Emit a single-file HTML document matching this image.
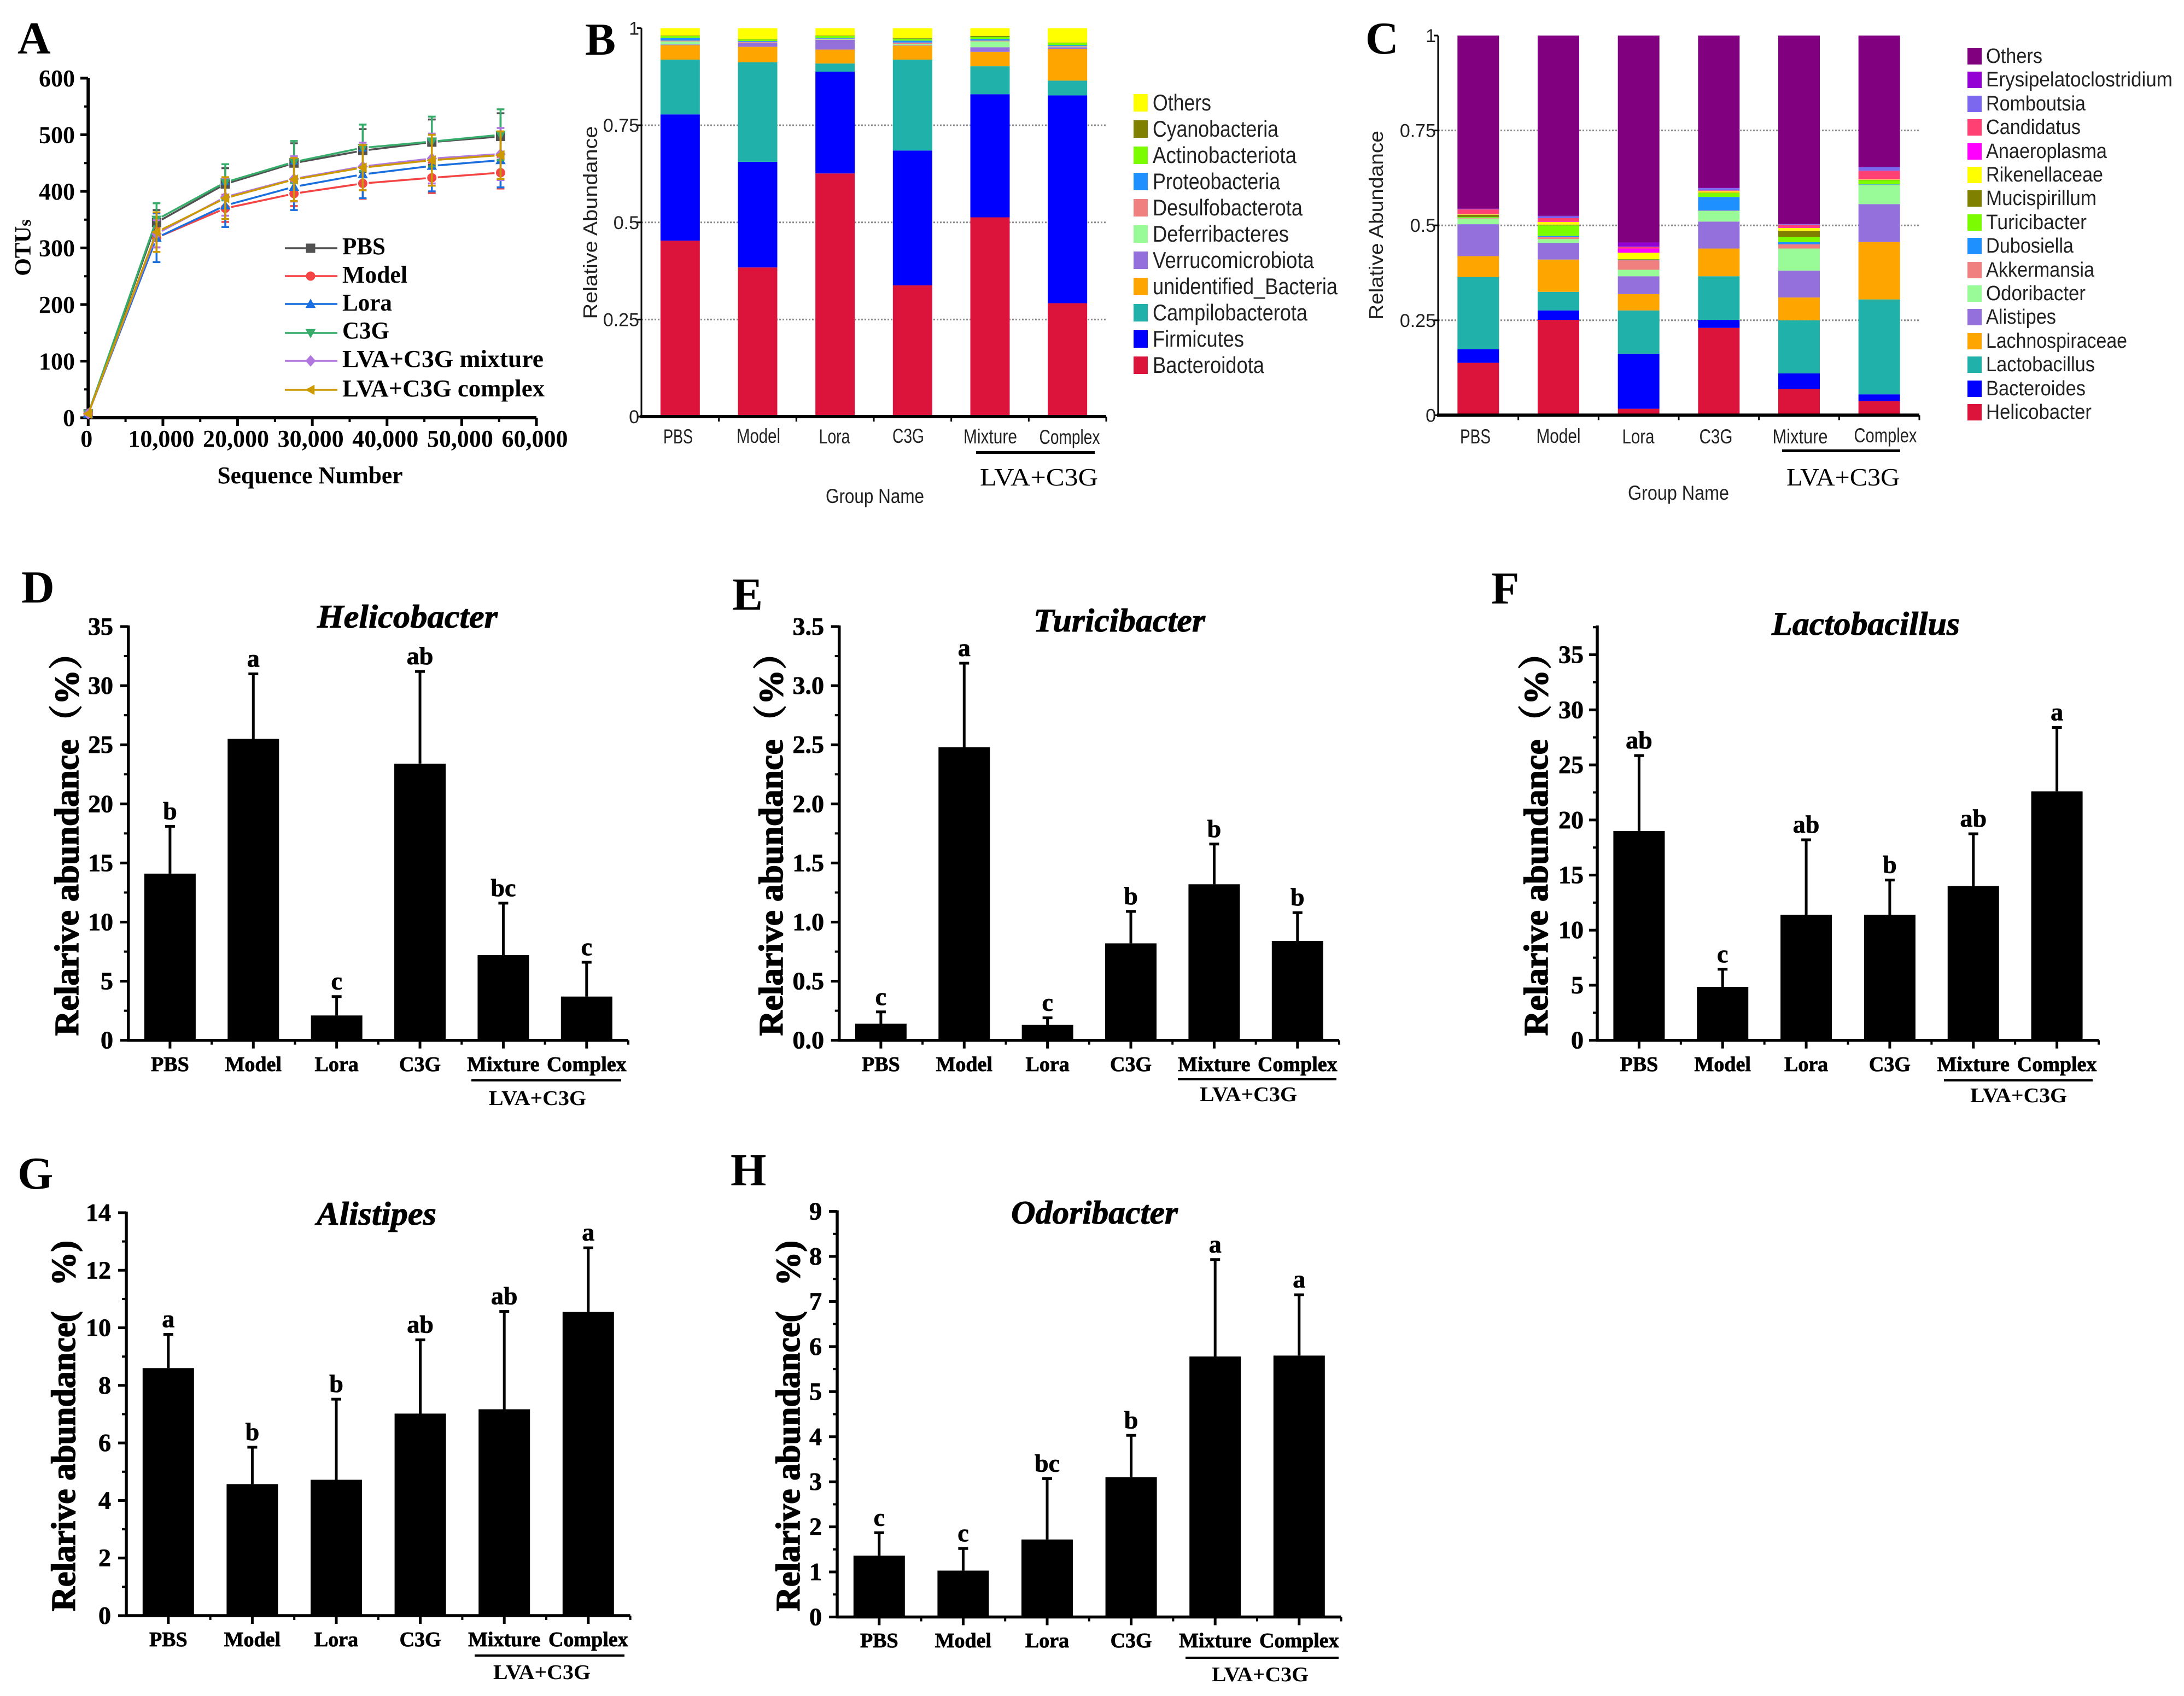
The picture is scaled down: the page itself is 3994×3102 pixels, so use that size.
<!DOCTYPE html>
<html lang="en">
<head>
<meta charset="utf-8">
<title>Gut microbiota composition figure</title>
<style>
html,body{margin:0;padding:0;background:#fff;}
svg{display:block;}
.serif{font-family:"Liberation Serif","Noto Serif CJK SC",serif;}
.bold{font-weight:bold;}
.ital{font-style:italic;}
.sans{font-family:"Liberation Sans",sans-serif;}
.letter{font-family:"Liberation Serif",serif;font-weight:bold;font-size:84px;}
.ytitle{font-family:"Liberation Serif","Noto Serif CJK SC",serif;font-weight:bold;font-size:62px;text-anchor:middle;white-space:pre;stroke:#000;stroke-width:1.5px;}
.title{font-family:"Liberation Serif",serif;font-weight:bold;font-style:italic;font-size:60px;stroke:#000;stroke-width:1px;}
.lva{font-family:"Liberation Serif",serif;font-weight:bold;font-size:38px;}
.lgb{font-family:"Liberation Sans",sans-serif;font-size:42px;fill:#222;}
.lgc{font-family:"Liberation Sans",sans-serif;font-size:38px;fill:#222;}
.lga{font-family:"Liberation Serif",serif;font-weight:bold;font-size:44px;}
.heavy{stroke:#000;stroke-width:.8px;}
</style>
</head>
<body>
<svg id="figure" xmlns="http://www.w3.org/2000/svg" width="3994" height="3102" viewBox="0 0 3994 3102">
<rect x="0" y="0" width="3994" height="3102" fill="#fff"/>

<g id="panel-a">
  <text class="letter" x="32" y="98">A</text>
  <text class="serif bold" font-size="42" text-anchor="middle" transform="translate(56 453) rotate(-90)">OTU<tspan font-size="32">s</tspan></text>
  <text class="serif bold" font-size="44" text-anchor="middle" x="567" y="884" textLength="339" lengthAdjust="spacingAndGlyphs">Sequence Number</text>
  <text class="lga" x="626" y="465" textLength="79" lengthAdjust="spacingAndGlyphs">PBS</text>
  <text class="lga" x="626" y="517" textLength="119" lengthAdjust="spacingAndGlyphs">Model</text>
  <text class="lga" x="626" y="568" textLength="91" lengthAdjust="spacingAndGlyphs">Lora</text>
  <text class="lga" x="626" y="619" textLength="86" lengthAdjust="spacingAndGlyphs">C3G</text>
  <text class="lga" x="626" y="671" textLength="368" lengthAdjust="spacingAndGlyphs">LVA+C3G mixture</text>
  <text class="lga" x="626" y="725" textLength="370" lengthAdjust="spacingAndGlyphs">LVA+C3G complex</text>
</g>

<g id="panel-b">
  <text class="letter" x="1070" y="100">B</text>
  <text class="sans" font-size="36" fill="#222" text-anchor="middle" transform="translate(1092 407) rotate(-90)" textLength="353" lengthAdjust="spacingAndGlyphs">Relative Abundance</text>
  <rect x="1785" y="825" width="217" height="5" fill="#000"/>
  <text class="serif" font-size="45" x="1792" y="888" textLength="216" lengthAdjust="spacingAndGlyphs">LVA+C3G</text>
  <text class="sans" font-size="37" fill="#222" x="1510" y="920" textLength="180" lengthAdjust="spacingAndGlyphs">Group Name</text>
  <g>
    <rect x="2073" y="172" width="26" height="32" fill="#ffff00"/><text class="lgb" x="2108" y="202" textLength="107" lengthAdjust="spacingAndGlyphs">Others</text>
    <rect x="2073" y="220" width="26" height="32" fill="#808000"/><text class="lgb" x="2108" y="250" textLength="230" lengthAdjust="spacingAndGlyphs">Cyanobacteria</text>
    <rect x="2073" y="268" width="26" height="32" fill="#7cfc00"/><text class="lgb" x="2108" y="298" textLength="263" lengthAdjust="spacingAndGlyphs">Actinobacteriota</text>
    <rect x="2073" y="316" width="26" height="32" fill="#1e90ff"/><text class="lgb" x="2108" y="346" textLength="233" lengthAdjust="spacingAndGlyphs">Proteobacteria</text>
    <rect x="2073" y="364" width="26" height="32" fill="#f08080"/><text class="lgb" x="2108" y="394" textLength="274" lengthAdjust="spacingAndGlyphs">Desulfobacterota</text>
    <rect x="2073" y="412" width="26" height="32" fill="#98fb98"/><text class="lgb" x="2108" y="442" textLength="249" lengthAdjust="spacingAndGlyphs">Deferribacteres</text>
    <rect x="2073" y="460" width="26" height="32" fill="#9370db"/><text class="lgb" x="2108" y="490" textLength="295" lengthAdjust="spacingAndGlyphs">Verrucomicrobiota</text>
    <rect x="2073" y="508" width="26" height="32" fill="#ffa500"/><text class="lgb" x="2108" y="538" textLength="338" lengthAdjust="spacingAndGlyphs">unidentified_Bacteria</text>
    <rect x="2073" y="556" width="26" height="32" fill="#20b2aa"/><text class="lgb" x="2108" y="586" textLength="283" lengthAdjust="spacingAndGlyphs">Campilobacterota</text>
    <rect x="2073" y="604" width="26" height="32" fill="#0000ff"/><text class="lgb" x="2108" y="634" textLength="167" lengthAdjust="spacingAndGlyphs">Firmicutes</text>
    <rect x="2073" y="652" width="26" height="32" fill="#dc143c"/><text class="lgb" x="2108" y="682" textLength="204" lengthAdjust="spacingAndGlyphs">Bacteroidota</text>
  </g>
</g>

<g id="panel-c">
  <text class="letter" x="2497" y="98">C</text>
  <text class="sans" font-size="36" fill="#222" text-anchor="middle" transform="translate(2529 412) rotate(-90)" textLength="346" lengthAdjust="spacingAndGlyphs">Relative Abundance</text>
  <rect x="3259" y="822" width="216" height="5" fill="#000"/>
  <text class="serif" font-size="45" x="3267" y="888" textLength="207" lengthAdjust="spacingAndGlyphs">LVA+C3G</text>
  <text class="sans" font-size="37" fill="#222" x="2977" y="914" textLength="185" lengthAdjust="spacingAndGlyphs">Group Name</text>
  <g>
    <rect x="3598" y="88" width="26" height="30" fill="#800080"/><text class="lgc" x="3632" y="115" textLength="103" lengthAdjust="spacingAndGlyphs">Others</text>
    <rect x="3598" y="131" width="26" height="30" fill="#9400d3"/><text class="lgc" x="3632" y="158" textLength="341" lengthAdjust="spacingAndGlyphs">Erysipelatoclostridium</text>
    <rect x="3598" y="175" width="26" height="30" fill="#7b68ee"/><text class="lgc" x="3632" y="202" textLength="182" lengthAdjust="spacingAndGlyphs">Romboutsia</text>
    <rect x="3598" y="218" width="26" height="30" fill="#ff4073"/><text class="lgc" x="3632" y="245" textLength="173" lengthAdjust="spacingAndGlyphs">Candidatus</text>
    <rect x="3598" y="262" width="26" height="30" fill="#ff00ff"/><text class="lgc" x="3632" y="289" textLength="221" lengthAdjust="spacingAndGlyphs">Anaeroplasma</text>
    <rect x="3598" y="305" width="26" height="30" fill="#ffff00"/><text class="lgc" x="3632" y="332" textLength="214" lengthAdjust="spacingAndGlyphs">Rikenellaceae</text>
    <rect x="3598" y="348" width="26" height="30" fill="#808000"/><text class="lgc" x="3632" y="375" textLength="202" lengthAdjust="spacingAndGlyphs">Mucispirillum</text>
    <rect x="3598" y="392" width="26" height="30" fill="#7cfc00"/><text class="lgc" x="3632" y="419" textLength="184" lengthAdjust="spacingAndGlyphs">Turicibacter</text>
    <rect x="3598" y="435" width="26" height="30" fill="#1e90ff"/><text class="lgc" x="3632" y="462" textLength="160" lengthAdjust="spacingAndGlyphs">Dubosiella</text>
    <rect x="3598" y="479" width="26" height="30" fill="#f08080"/><text class="lgc" x="3632" y="506" textLength="198" lengthAdjust="spacingAndGlyphs">Akkermansia</text>
    <rect x="3598" y="522" width="26" height="30" fill="#98fb98"/><text class="lgc" x="3632" y="549" textLength="182" lengthAdjust="spacingAndGlyphs">Odoribacter</text>
    <rect x="3598" y="565" width="26" height="30" fill="#9370db"/><text class="lgc" x="3632" y="592" textLength="128" lengthAdjust="spacingAndGlyphs">Alistipes</text>
    <rect x="3598" y="609" width="26" height="30" fill="#ffa500"/><text class="lgc" x="3632" y="636" textLength="258" lengthAdjust="spacingAndGlyphs">Lachnospiraceae</text>
    <rect x="3598" y="652" width="26" height="30" fill="#20b2aa"/><text class="lgc" x="3632" y="679" textLength="199" lengthAdjust="spacingAndGlyphs">Lactobacillus</text>
    <rect x="3598" y="696" width="26" height="30" fill="#0000ff"/><text class="lgc" x="3632" y="723" textLength="182" lengthAdjust="spacingAndGlyphs">Bacteroides</text>
    <rect x="3598" y="739" width="26" height="30" fill="#dc143c"/><text class="lgc" x="3632" y="766" textLength="193" lengthAdjust="spacingAndGlyphs">Helicobacter</text>
  </g>
</g>

<g id="panel-d">
  <text class="letter" x="39" y="1102">D</text>
  <text class="title" x="580" y="1148" textLength="330" lengthAdjust="spacingAndGlyphs">Helicobacter</text>
  <text class="ytitle" transform="translate(143 1528) rotate(-90)" textLength="733" lengthAdjust="spacingAndGlyphs">Relarive abundance（%）</text>
  <rect x="862" y="1974" width="274" height="4" fill="#000"/>
  <text class="lva" x="894" y="2021" textLength="178" lengthAdjust="spacingAndGlyphs">LVA+C3G</text>
</g>

<g id="panel-e">
  <text class="letter" x="1339" y="1115">E</text>
  <text class="title" x="1890" y="1155" textLength="314" lengthAdjust="spacingAndGlyphs">Turicibacter</text>
  <text class="ytitle" transform="translate(1431 1528) rotate(-90)" textLength="733" lengthAdjust="spacingAndGlyphs">Relarive abundance（%）</text>
  <rect x="2154" y="1972" width="290" height="4" fill="#000"/>
  <text class="lva" x="2194" y="2014" textLength="178" lengthAdjust="spacingAndGlyphs">LVA+C3G</text>
</g>

<g id="panel-f">
  <text class="letter" x="2727" y="1104">F</text>
  <text class="title" x="3240" y="1161" textLength="344" lengthAdjust="spacingAndGlyphs">Lactobacillus</text>
  <text class="ytitle" transform="translate(2830 1528) rotate(-90)" textLength="733" lengthAdjust="spacingAndGlyphs">Relarive abundance（%）</text>
  <rect x="3555" y="1974" width="272" height="4" fill="#000"/>
  <text class="lva" x="3603" y="2016" textLength="177" lengthAdjust="spacingAndGlyphs">LVA+C3G</text>
</g>

<g id="panel-g">
  <text class="letter" x="32" y="2174">G</text>
  <text class="title" x="579" y="2240" textLength="219" lengthAdjust="spacingAndGlyphs">Alistipes</text>
  <text class="ytitle" transform="translate(137 2608) rotate(-90)" textLength="678" lengthAdjust="spacingAndGlyphs">Relarive abundance(   %)</text>
  <rect x="868" y="3026" width="274" height="4" fill="#000"/>
  <text class="lva" x="902" y="3071" textLength="178" lengthAdjust="spacingAndGlyphs">LVA+C3G</text>
</g>

<g id="panel-h">
  <text class="letter" x="1336" y="2168">H</text>
  <text class="title" x="1849" y="2238" textLength="305" lengthAdjust="spacingAndGlyphs">Odoribacter</text>
  <text class="ytitle" transform="translate(1462 2608) rotate(-90)" textLength="678" lengthAdjust="spacingAndGlyphs">Relarive abundance(   %)</text>
  <rect x="2168" y="3030" width="280" height="4" fill="#000"/>
  <text class="lva" x="2216" y="3075" textLength="177" lengthAdjust="spacingAndGlyphs">LVA+C3G</text>
</g>
</svg>

<script>
/* ---------- Panel A data ---------- */
const seqDepth = [0, 9150, 18350, 27550, 36750, 46000, 55200];
const otuTicks = [0, 100, 200, 300, 400, 500, 600];
const depthTicks = [0, 10000, 20000, 30000, 40000, 50000, 60000];
const pbsOtus = [7, 345, 413, 450, 472, 487, 497];
const pbsErr = [0, 22, 28, 35, 38, 40, 41];
const modelOtus = [7, 318, 370, 396, 414, 424, 433];
const modelErr = [0, 17, 24, 22, 27, 27, 28];
const loraOtus = [7, 318, 375, 408, 430, 445, 455];
const loraErr = [0, 43, 38, 41, 42, 45, 48];
const c3gOtus = [7, 350, 416, 452, 477, 488, 500];
const c3gErr = [0, 29, 32, 37, 41, 44, 45];
const mixtureOtus = [7, 325, 390, 422, 444, 458, 466];
const mixtureErr = [0, 24, 33, 40, 42, 44, 46];
const complexOtus = [7, 328, 388, 421, 442, 455, 464];
const complexErr = [0, 35, 37, 38, 40, 45, 42];

/* ---------- Panel B data (fractions, PBS..Complex) ---------- */
const groupNames = ['PBS', 'Model', 'Lora', 'C3G', 'Mixture', 'Complex'];
const fractionTicks = [0, 0.25, 0.5, 0.75, 1];
const fractionTickLabels = ['0', '0.25', '0.5', '0.75', '1'];
const bacteroidota = [.453, .384, .626, .338, .513, .292];
const firmicutes = [.325, .272, .262, .347, .317, .535];
const campilobacterota = [.141, .256, .021, .234, .072, .038];
const unidentifiedBacteria = [.037, .040, .036, .036, .037, .081];
const verrucomicrobiota = [.002, .010, .025, .001, .012, .005];
const deferribacteres = [.008, .001, .001, .003, .015, .001];
const desulfobacterota = [.002, .002, .002, .004, .002, .002];
const proteobacteria = [.007, .002, .002, .005, .004, .002];
const actinobacteriota = [.005, .004, .005, .005, .006, .006];
const cyanobacteria = [.001, .001, .001, .001, .002, .001];
const phylumOthers = [.019, .028, .019, .026, .020, .037];

/* ---------- Panel C data (fractions, PBS..Complex) ---------- */
const helicobacterFrac = [.138, .251, .017, .230, .069, .037];
const bacteroidesFrac = [.036, .025, .145, .021, .041, .018];
const lactobacillusFrac = [.190, .049, .114, .115, .140, .250];
const lachnospiraceaeFrac = [.055, .085, .043, .073, .060, .151];
const alistipesFrac = [.084, .044, .047, .071, .071, .100];
const odoribacterFrac = [.015, .010, .017, .028, .058, .050];
const akkermansiaFrac = [.001, .006, .025, .001, .011, .001];
const dubosiellaFrac = [.001, .002, .001, .036, .006, .001];
const turicibacterFrac = [.002, .028, .001, .010, .014, .011];
const mucispirillumFrac = [.006, .002, .001, .001, .016, .001];
const rikenellaceaeFrac = [.001, .007, .017, .004, .007, .001];
const anaeroplasmaFrac = [.001, .001, .011, .001, .001, .001];
const candidatusFrac = [.012, .009, .004, .001, .008, .022];
const romboutsiaFrac = [.001, .005, .001, .006, .001, .009];
const erysipelatoFrac = [.001, .001, .011, .001, .001, .001];
const genusOthers = [.456, .475, .545, .401, .496, .346];

/* ---------- Panels D-H data ---------- */
const helicobacterTicks = [0, 5, 10, 15, 20, 25, 30, 35];
const helicobacterMeans = [14.1, 25.5, 2.1, 23.4, 7.2, 3.7];
const helicobacterTops = [18.1, 31.0, 3.7, 31.2, 11.6, 6.6];
const helicobacterLetters = ['b', 'a', 'c', 'ab', 'bc', 'c'];

const turicibacterTicks = [0, 0.5, 1, 1.5, 2, 2.5, 3, 3.5];
const turicibacterMeans = [0.14, 2.48, 0.13, 0.82, 1.32, 0.84];
const turicibacterTops = [0.24, 3.19, 0.19, 1.09, 1.66, 1.08];
const turicibacterLetters = ['c', 'a', 'c', 'b', 'b', 'b'];

const lactobacillusTicks = [0, 5, 10, 15, 20, 25, 30, 35];
const lactobacillusMeans = [19.0, 4.85, 11.4, 11.4, 14.0, 22.6];
const lactobacillusTops = [25.85, 6.45, 18.2, 14.55, 18.75, 28.4];
const lactobacillusLetters = ['ab', 'c', 'ab', 'b', 'ab', 'a'];

const alistipesTicks = [0, 2, 4, 6, 8, 10, 12, 14];
const alistipesMeans = [8.6, 4.57, 4.72, 7.02, 7.17, 10.55];
const alistipesTops = [9.77, 5.85, 7.52, 9.58, 10.57, 12.78];
const alistipesLetters = ['a', 'b', 'b', 'ab', 'ab', 'a'];

const odoribacterTicks = [0, 1, 2, 3, 4, 5, 6, 7, 8, 9];
const odoribacterMeans = [1.36, 1.03, 1.72, 3.1, 5.78, 5.8];
const odoribacterTops = [1.87, 1.52, 3.07, 4.03, 7.93, 7.15];
const odoribacterLetters = ['c', 'c', 'bc', 'b', 'a', 'a'];

/* ---------- Drawing helpers ---------- */
const NS = 'http://www.w3.org/2000/svg';
function slug(s) {
  return String(s).toLowerCase().replace(/[^a-z0-9]+/g, '-').replace(/^-|-$/g, '');
}
function mk(parent, tag, attrs, name) {
  const el = document.createElementNS(NS, tag);
  for (const k in attrs) el.setAttribute(k, attrs[k]);
  
  
  parent.appendChild(el);
  return el;
}
function line(parent, x1, y1, x2, y2, color, w, name) {
  return mk(parent, 'line', {x1: x1, y1: y1, x2: x2, y2: y2, stroke: color, 'stroke-width': w}, name);
}
function label(parent, str, x, y, size, cls, anchor, name, extra) {
  const attrs = {x: x, y: y, 'font-size': size, class: cls, 'text-anchor': anchor};
  if (extra) for (const k in extra) attrs[k] = extra[k];
  const el = mk(parent, 'text', attrs, name);
  el.textContent = str;
  return el;
}
function marker(parent, type, cx, cy, r, color, name) {
  if (type === 'circle') return mk(parent, 'circle', {cx: cx, cy: cy, r: r, fill: color}, name);
  if (type === 'square') return mk(parent, 'rect', {x: cx - r, y: cy - r, width: 2 * r, height: 2 * r, fill: color}, name);
  const shapes = {
    up: [[0, -1.15], [1.1, 0.85], [-1.1, 0.85]],
    down: [[0, 1.15], [1.1, -0.85], [-1.1, -0.85]],
    diamond: [[0, -1.25], [1.1, 0], [0, 1.25], [-1.1, 0]],
    left: [[-1.15, 0], [0.85, -1.1], [0.85, 1.1]]
  };
  const pts = shapes[type].map(p => (cx + p[0] * r) + ',' + (cy + p[1] * r)).join(' ');
  return mk(parent, 'polygon', {points: pts, fill: color}, name);
}

/* ---------- Panel A: rarefaction lines ---------- */
const lineSeries = [
  {name: 'PBS', values: pbsOtus, err: pbsErr, color: '#515151', shape: 'square', legendY: 454},
  {name: 'Model', values: modelOtus, err: modelErr, color: '#f44444', shape: 'circle', legendY: 505},
  {name: 'Lora', values: loraOtus, err: loraErr, color: '#1a6fdf', shape: 'up', legendY: 556},
  {name: 'C3G', values: c3gOtus, err: c3gErr, color: '#37ad6b', shape: 'down', legendY: 609},
  {name: 'Mixture', values: mixtureOtus, err: mixtureErr, color: '#b177de', shape: 'diamond', legendY: 660},
  {name: 'Complex', values: complexOtus, err: complexErr, color: '#cc9900', shape: 'left', legendY: 713}
];
(function drawPanelA() {
  const g = document.getElementById('panel-a');
  const xA = v => 161.3 + v / 60000 * 819.7;
  const yA = v => 764 - v / 600 * 621;
  otuTicks.forEach(v => {
    line(g, 147, yA(v), 161, yA(v), '#000', 5, 'y-tick-' + v);
    label(g, v, 137, yA(v) + 15, 44, 'serif bold', 'end', 'y-tick-label-' + v);
    if (v < 600) line(g, 154, yA(v + 50), 161, yA(v + 50), '#000', 4, 'y-minor-tick');
  });
  depthTicks.forEach(v => {
    line(g, xA(v), 764, xA(v), 779, '#000', 5, 'x-tick-' + v);
    label(g, v === 0 ? '0' : v.toLocaleString('en-US'), xA(v) - 3, 817, 44, 'serif bold', 'middle', 'x-tick-label-' + v);
    if (v < 60000) line(g, xA(v + 5000), 764, xA(v + 5000), 772, '#000', 4, 'x-minor-tick');
  });
  line(g, 161.3, 766, 161.3, 143, '#000', 6, 'y-axis-line');
  line(g, 158, 764, 981, 764, '#000', 6, 'x-axis-line');
  lineSeries.forEach(s => {
    const key = slug(s.name);
    const sg = mk(g, 'g', {}, 'series-' + key);
    s.values.forEach((v, i) => {
      const px = xA(seqDepth[i]);
      const py = yA(v);
      if (s.err[i] > 0) {
        line(sg, px, yA(v - s.err[i]), px, yA(v + s.err[i]), s.color, 3.5, 'error-bar-' + key);
        line(sg, px - 7, yA(v + s.err[i]), px + 7, yA(v + s.err[i]), s.color, 3.5, 'error-cap-' + key);
        line(sg, px - 7, yA(v - s.err[i]), px + 7, yA(v - s.err[i]), s.color, 3.5, 'error-cap-' + key);
      }
      if (i > 0) {
        const qx = xA(seqDepth[i - 1]);
        const qy = yA(s.values[i - 1]);
        const d = Math.hypot(px - qx, py - qy);
        const gapA = i === 1 ? 0 : 11;
        const ux = (px - qx) / d;
        const uy = (py - qy) / d;
        line(sg, qx + ux * gapA, qy + uy * gapA, px - ux * 11, py - uy * 11, s.color, 3.5, 'line-segment-' + key);
      }
    });
    s.values.forEach((v, i) => {
      marker(sg, s.shape, xA(seqDepth[i]), yA(v), 8.5, s.color, 'point-' + key);
    });
    const lg = mk(g, 'g', {}, 'legend-key-' + key);
    line(lg, 521, s.legendY, 617, s.legendY, s.color, 3.5, 'legend-line-' + key);
    marker(lg, s.shape, 568, s.legendY, 8.5, s.color, 'legend-marker-' + key);
  });
})();

/* ---------- Panels B, C: stacked bars ---------- */
const phylumStack = [
  {name: 'Bacteroidota', values: bacteroidota, color: '#dc143c'},
  {name: 'Firmicutes', values: firmicutes, color: '#0000ff'},
  {name: 'Campilobacterota', values: campilobacterota, color: '#20b2aa'},
  {name: 'unidentified Bacteria', values: unidentifiedBacteria, color: '#ffa500'},
  {name: 'Verrucomicrobiota', values: verrucomicrobiota, color: '#9370db'},
  {name: 'Deferribacteres', values: deferribacteres, color: '#98fb98'},
  {name: 'Desulfobacterota', values: desulfobacterota, color: '#f08080'},
  {name: 'Proteobacteria', values: proteobacteria, color: '#1e90ff'},
  {name: 'Actinobacteriota', values: actinobacteriota, color: '#7cfc00'},
  {name: 'Cyanobacteria', values: cyanobacteria, color: '#808000'},
  {name: 'Others', values: phylumOthers, color: '#ffff00'}
];
const genusStack = [
  {name: 'Helicobacter', values: helicobacterFrac, color: '#dc143c'},
  {name: 'Bacteroides', values: bacteroidesFrac, color: '#0000ff'},
  {name: 'Lactobacillus', values: lactobacillusFrac, color: '#20b2aa'},
  {name: 'Lachnospiraceae', values: lachnospiraceaeFrac, color: '#ffa500'},
  {name: 'Alistipes', values: alistipesFrac, color: '#9370db'},
  {name: 'Odoribacter', values: odoribacterFrac, color: '#98fb98'},
  {name: 'Akkermansia', values: akkermansiaFrac, color: '#f08080'},
  {name: 'Dubosiella', values: dubosiellaFrac, color: '#1e90ff'},
  {name: 'Turicibacter', values: turicibacterFrac, color: '#7cfc00'},
  {name: 'Mucispirillum', values: mucispirillumFrac, color: '#808000'},
  {name: 'Rikenellaceae', values: rikenellaceaeFrac, color: '#ffff00'},
  {name: 'Anaeroplasma', values: anaeroplasmaFrac, color: '#ff00ff'},
  {name: 'Candidatus', values: candidatusFrac, color: '#ff4073'},
  {name: 'Romboutsia', values: romboutsiaFrac, color: '#7b68ee'},
  {name: 'Erysipelatoclostridium', values: erysipelatoFrac, color: '#9400d3'},
  {name: 'Others', values: genusOthers, color: '#800080'}
];
function stackedPanel(id, stack, L) {
  const g = document.getElementById(id);
  const band = (L.x1 - L.x0) / groupNames.length;
  const yS = v => L.y0 - v * (L.y0 - L.yTop);
  const xC = i => L.x0 + band * (i + 0.5);
  fractionTicks.forEach((v, i) => {
    if (v > 0 && v < 1) {
      line(g, L.x0, yS(v), L.x1, yS(v), '#8a8a8a', 3, 'gridline-' + slug(fractionTickLabels[i])).setAttribute('stroke-dasharray', '3 3');
    }
    line(g, L.x0 - 8, yS(v), L.x0, yS(v), '#000', 3, 'y-tick-' + slug(fractionTickLabels[i]));
    label(g, fractionTickLabels[i], L.x0 - 4, yS(v) + 12, 34, 'sans', 'end', 'y-tick-label-' + slug(fractionTickLabels[i]), {fill: '#222'});
  });
  groupNames.forEach((name, i) => {
    let acc = 0;
    stack.forEach(s => {
      const v = s.values[i];
      const top = yS(acc + v);
      const bottom = yS(acc);
      mk(g, 'rect', {x: xC(i) - L.barW / 2, y: top, width: L.barW, height: bottom - top, fill: s.color}, 'bar-' + slug(name) + '-' + slug(s.name));
      acc += v;
    });
    line(g, L.x0 + band * (i + 1), L.y0, L.x0 + band * (i + 1), L.y0 + 9, '#000', 3, 'x-tick');
    label(g, name, L.labelX[i], L.labelY[i], 37, 'sans', 'middle', 'x-tick-label-' + slug(name), {fill: '#222', textLength: L.labelW[i], lengthAdjust: 'spacingAndGlyphs'});
  });
  line(g, L.x0, L.y0 + 2, L.x0, L.yTop, '#000', 3, 'y-axis-line');
  line(g, L.x0 - 2, L.y0, L.x1, L.y0, '#000', 6, 'x-axis-line');
}
stackedPanel('panel-b', phylumStack, {
  x0: 1173, x1: 2023, y0: 762, yTop: 51.5, barW: 72,
  labelX: [1240, 1387, 1526, 1661, 1811, 1956],
  labelY: [811, 810, 811, 810, 811, 812],
  labelW: [54, 80, 57, 58, 98, 111]
});
stackedPanel('panel-c', genusStack, {
  x0: 2630, x1: 3510, y0: 759.4, yTop: 65, barW: 76,
  labelX: [2698, 2850, 2996, 3138, 3292, 3448],
  labelY: [811, 810, 811, 811, 811, 809],
  labelW: [56, 81, 59, 61, 101, 115]
});

/* ---------- Panels D-H: bar charts ---------- */
function barPanel(id, L) {
  const g = document.getElementById(id);
  const band = (L.x1 - L.x0) / groupNames.length;
  const yB = v => L.y0 - v / L.max * (L.y0 - L.yTop);
  const xC = i => L.x0 + band * (i + 0.5);
  const step = L.ticks[1] - L.ticks[0];
  L.ticks.forEach(v => {
    const txt = L.decimals ? v.toFixed(L.decimals) : String(v);
    line(g, L.x0 - 15, yB(v), L.x0, yB(v), '#000', 5, 'y-tick-' + slug(txt));
    label(g, txt, L.tickRight, yB(v) + 15, 46, 'serif bold heavy', 'end', 'y-tick-label-' + slug(txt));
  });
  for (let v = step / 2; v <= L.max; v += step) {
    line(g, L.x0 - 8, yB(v), L.x0, yB(v), '#000', 4, 'y-minor-tick');
  }
  groupNames.forEach((name, i) => {
    const key = slug(name);
    const cx = xC(i);
    line(g, cx, L.y0, cx, L.y0 + 15, '#000', 5, 'x-tick-' + key);
    line(g, L.x0 + band * (i + 1), L.y0, L.x0 + band * (i + 1), L.y0 + 8, '#000', 4, 'x-minor-tick');
    mk(g, 'rect', {x: cx - 47, y: yB(L.means[i]), width: 94, height: L.y0 - yB(L.means[i]), fill: '#000'}, 'bar-' + key);
    line(g, cx, yB(L.means[i]), cx, yB(L.tops[i]), '#000', 5, 'error-bar-' + key);
    line(g, cx - 9, yB(L.tops[i]), cx + 9, yB(L.tops[i]), '#000', 5, 'error-cap-' + key);
    label(g, L.letters[i], cx, yB(L.tops[i]) - 13, 46, 'serif bold heavy', 'middle', 'significance-letter-' + key);
    label(g, name, cx, L.catY, 38, 'serif bold heavy', 'middle', 'x-tick-label-' + key);
  });
  line(g, L.x0, L.y0 + 2.5, L.x0, L.yTop - 2, '#000', 5.5, 'y-axis-line');
  line(g, L.x0 - 2, L.y0, L.x1, L.y0, '#000', 5.5, 'x-axis-line');
}
barPanel('panel-d', {x0: 234.7, x1: 1149, y0: 1902.7, yTop: 1146, max: 35, tickRight: 207, catY: 1959,
  ticks: helicobacterTicks, means: helicobacterMeans, tops: helicobacterTops, letters: helicobacterLetters});
barPanel('panel-e', {x0: 1534.7, x1: 2449, y0: 1902.7, yTop: 1146, max: 3.5, decimals: 1, tickRight: 1507, catY: 1959,
  ticks: turicibacterTicks, means: turicibacterMeans, tops: turicibacterTops, letters: turicibacterLetters});
barPanel('panel-f', {x0: 2921, x1: 3838, y0: 1902.7, yTop: 1146, max: 37.56, tickRight: 2896, catY: 1959,
  ticks: lactobacillusTicks, means: lactobacillusMeans, tops: lactobacillusTops, letters: lactobacillusLetters});
barPanel('panel-g', {x0: 231, x1: 1152.6, y0: 2955, yTop: 2218, max: 14, tickRight: 203, catY: 3011,
  ticks: alistipesTicks, means: alistipesMeans, tops: alistipesTops, letters: alistipesLetters});
barPanel('panel-h', {x0: 1531, x1: 2452.6, y0: 2957.5, yTop: 2215.6, max: 9, tickRight: 1503, catY: 3013,
  ticks: odoribacterTicks, means: odoribacterMeans, tops: odoribacterTops, letters: odoribacterLetters});
</script>
</body>
</html>
